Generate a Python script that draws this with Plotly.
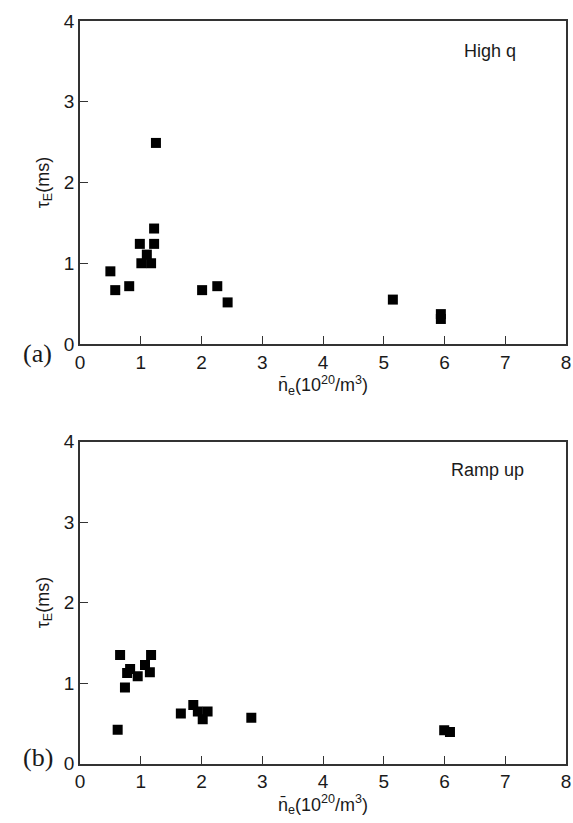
import plotly.graph_objects as go

# Panel (a): High q
ne_a = [1.25, 1.22, 0.985, 1.22, 1.10, 1.01, 1.17, 0.50, 0.58, 0.81, 2.01, 2.26, 2.43, 5.15, 5.94, 5.94]
tau_a = [2.49, 1.43, 1.24, 1.24, 1.107, 1.0, 1.0, 0.90, 0.667, 0.716, 0.667, 0.716, 0.515, 0.55, 0.37, 0.31]

# Panel (b): Ramp up
ne_b = [0.66, 1.17, 0.825, 1.07, 0.776, 1.15, 0.95, 0.74, 0.62, 1.66, 1.865, 1.94, 2.10, 2.02, 2.82, 5.995, 6.09]
tau_b = [1.35, 1.35, 1.175, 1.225, 1.125, 1.133, 1.083, 0.945, 0.418, 0.62, 0.728, 0.645, 0.645, 0.55, 0.57, 0.414, 0.39]

x_ticks = [0, 1, 2, 3, 4, 5, 6, 7, 8]
y_ticks = [0, 1, 2, 3, 4]
panel_labels = ["(a)", "(b)"]
panel_titles = ["High q", "Ramp up"]

W, H = 573, 823
fig = go.Figure()

marker = dict(symbol="square", size=10, color="black", line=dict(width=0))
fig.add_trace(go.Scatter(x=ne_a, y=tau_a, mode="markers", marker=marker, xaxis="x", yaxis="y", showlegend=False))
fig.add_trace(go.Scatter(x=ne_b, y=tau_b, mode="markers", marker=marker, xaxis="x2", yaxis="y2", showlegend=False))

SANS = "Liberation Sans"
tickfont = dict(family=SANS, size=19, color="#1a1a1a")
titlefont = dict(family=SANS, size=18, color="#1a1a1a")
xtitle = "n\u0304<sub>e</sub>(10<sup>20</sup>/m<sup>3</sup>)"
ytitle = "\u03c4<sub>E</sub>(ms)"

xd = [80 / W, 566 / W]
yd_a = [(H - 344) / H, (H - 21) / H]
yd_b = [(H - 763.5) / H, (H - 441.7) / H]

def xaxis(anchor):
    return dict(domain=xd, range=[0, 8], tickvals=x_ticks, ticks="inside", ticklen=8,
                tickwidth=1.3, tickcolor="#333", showline=True, linecolor="#333", linewidth=1.5,
                mirror=True, showgrid=False, zeroline=False, tickfont=tickfont, anchor=anchor,
                automargin=False,
                title=dict(text=xtitle, font=titlefont, standoff=4))

def yaxis(domain, anchor):
    return dict(domain=domain, range=[0, 4], tickvals=y_ticks, ticks="inside", ticklen=8,
                tickwidth=1.3, tickcolor="#333", showline=True, linecolor="#333", linewidth=1.5,
                mirror=True, showgrid=False, zeroline=False, tickfont=tickfont, anchor=anchor,
                automargin=False,
                title=dict(text=ytitle, font=titlefont, standoff=10))

fig.update_layout(
    width=W, height=H,
    margin=dict(l=0, r=0, t=0, b=0, autoexpand=False),
    paper_bgcolor="white", plot_bgcolor="white",
    xaxis=xaxis("y"), yaxis=yaxis(yd_a, "x"),
    xaxis2=xaxis("y2"), yaxis2=yaxis(yd_b, "x2"),
)

serif = dict(family="Liberation Serif", size=26, color="#1a1a1a")
fig.add_annotation(x=21 / W, y=(H - 354) / H, xref="paper", yref="paper", text=panel_labels[0],
                   showarrow=False, font=serif)
fig.add_annotation(x=21 / W, y=(H - 774) / H, xref="paper", yref="paper", text=panel_labels[1],
                   showarrow=False, font=serif)
fig.add_annotation(x=6.75, y=3.63, xref="x", yref="y", text=panel_titles[0], showarrow=False,
                   font=titlefont)
fig.add_annotation(x=6.70, y=3.65, xref="x2", yref="y2", text=panel_titles[1], showarrow=False,
                   font=titlefont)

fig.write_html("out.html")
